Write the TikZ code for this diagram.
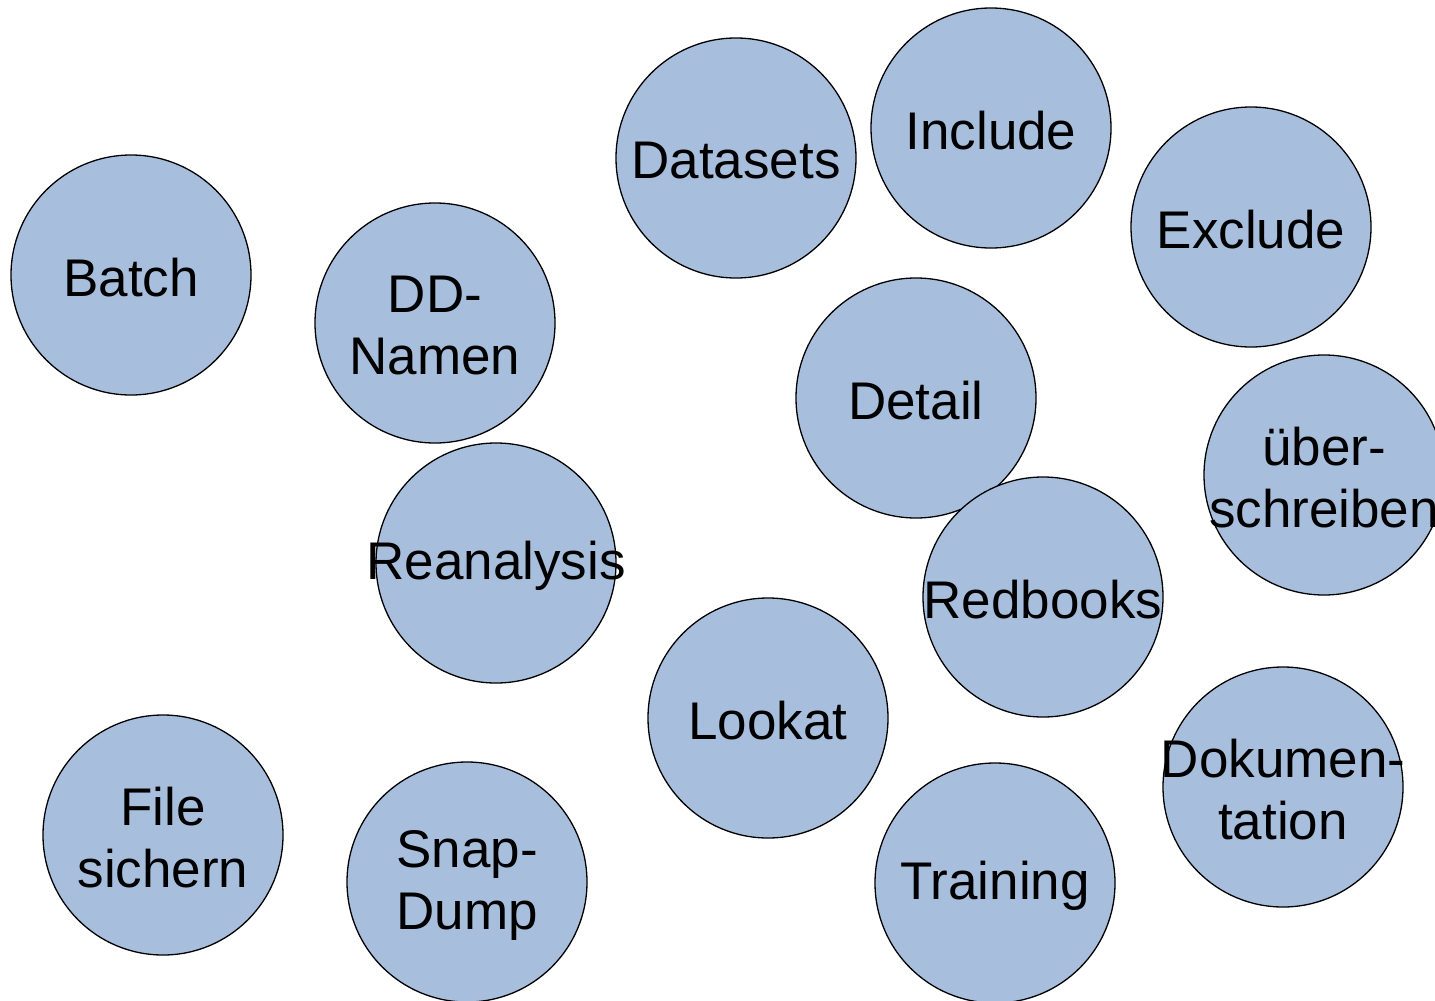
\documentclass[tikz,border=0pt]{standalone}
\usepackage{fontspec}
\setmainfont{Liberation Sans}
\definecolor{bubfill}{RGB}{167,191,221}
\begin{document}
\begin{tikzpicture}[x=1pt,y=-1pt,
  bub/.style={circle,draw=black,line width=1.3pt,fill=bubfill,minimum size=240pt,inner sep=0pt},
  txt/.style={align=center,inner sep=0pt,font=\fontsize{53}{62}\selectfont}]
\useasboundingbox (0,0) rectangle (1435,1001);
\clip (0,0) rectangle (1435,1001);
\node[bub] (batch) at (131,275) {};
\node[bub] (ddnamen) at (435,323) {};
\node[bub] (datasets) at (736,158) {};
\node[bub] (include) at (991,128) {};
\node[bub] (exclude) at (1251,227) {};
\node[bub] (detail) at (916,398) {};
\node[bub] (ueber) at (1324,475) {};
\node[bub] (reanalysis) at (496,563) {};
\node[bub] (redbooks) at (1043,597) {};
\node[bub] (lookat) at (768,718) {};
\node[bub] (file) at (163,835) {};
\node[bub] (snap) at (467,882) {};
\node[bub] (training) at (995,883) {};
\node[bub] (doku) at (1283,787) {};
\node[txt] (tbatch) at ([yshift=-3pt]batch.center) {Batch};
\node[txt] (tddnamen) at ([yshift=-3pt]ddnamen.center) {DD-\\Namen};
\node[txt] (tdatasets) at ([yshift=-3pt]datasets.center) {Datasets};
\node[txt] (tinclude) at ([yshift=-3pt]include.center) {Include};
\node[txt] (texclude) at ([yshift=-3pt]exclude.center) {Exclude};
\node[txt] (tdetail) at ([yshift=-3pt]detail.center) {Detail};
\node[txt] (tueber) at ([yshift=-3pt]ueber.center) {über-\\schreiben};
\node[txt] (treanalysis) at ([yshift=-3pt]reanalysis.center) {Reanalysis};
\node[txt] (tredbooks) at ([yshift=-3pt]redbooks.center) {Redbooks};
\node[txt] (tlookat) at ([yshift=-3pt]lookat.center) {Lookat};
\node[txt] (tfile) at ([yshift=-3pt]file.center) {File\\sichern};
\node[txt] (tsnap) at ([yshift=-3pt]snap.center) {Snap-\\Dump};
\node[txt] (ttraining) at ([yshift=-3pt]training.center) {Training};
\node[txt] (tdoku) at ([yshift=-3pt]doku.center) {Dokumen-\\tation};
\end{tikzpicture}
\end{document}
